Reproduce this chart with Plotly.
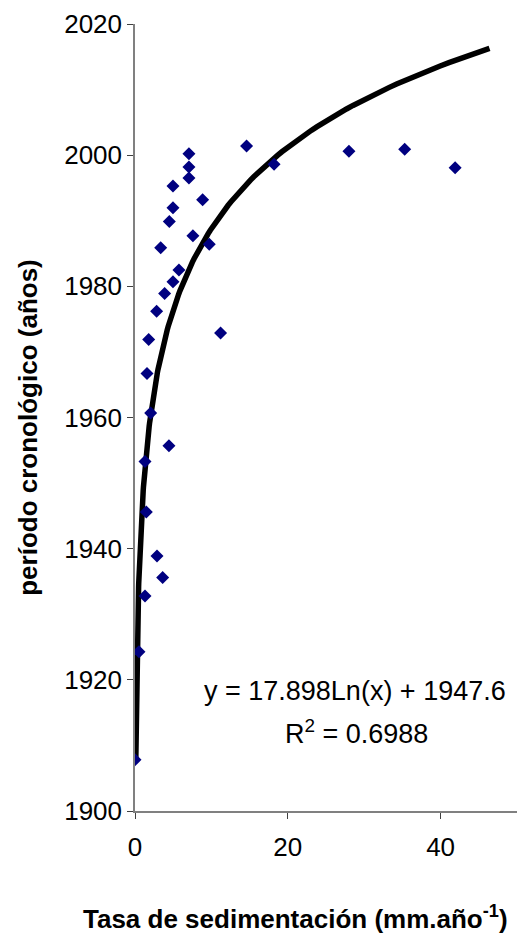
import numpy as np
import plotly.graph_objects as go

# Data points
tasa = [0.0, 0.52, 1.31, 2.88, 3.62, 1.48, 4.44, 1.31, 2.05, 1.57, 1.79, 2.83, 3.88,
        4.97, 5.75, 3.36, 4.49, 4.97, 4.97, 7.06, 7.06, 7.06, 7.58, 8.85, 9.72, 11.2,
        14.6, 18.2, 28.0, 35.3, 41.9]
periodo = [1907.8, 1924.3, 1932.8, 1938.9, 1935.6, 1945.6, 1955.7, 1953.3, 1960.7,
           1966.7, 1971.9, 1976.2, 1978.9, 1980.7, 1982.5, 1985.9, 1989.9, 1992.0,
           1995.3, 1996.5, 1998.2, 2000.2, 1987.7, 1993.2, 1986.4, 1972.9, 2001.4,
           1998.6, 2000.6, 2000.9, 1998.1]

# Logarithmic trendline coefficients (as shown on chart)
coef_a = 17.898
coef_b = 1947.6
trend_x_min = 0.11
trend_x_max = 46.4

x_ticks = [0, 20, 40]
y_ticks = [1900, 1920, 1940, 1960, 1980, 2000, 2020]

tx = np.geomspace(trend_x_min, trend_x_max, 200)
ty = coef_a * np.log(tx) + coef_b

FONT = "Arial, Liberation Sans, sans-serif"

fig = go.Figure()
fig.add_trace(go.Scatter(x=tx, y=ty, mode="lines",
                         line=dict(color="black", width=5.5), hoverinfo="skip",
                         showlegend=False))
fig.add_trace(go.Scatter(x=tasa, y=periodo, mode="markers",
                         marker=dict(symbol="diamond", color="#000080", size=10,
                                     line=dict(width=0)),
                         showlegend=False))

fig.update_layout(
    width=522, height=939,
    margin=dict(l=135, r=5, t=24, b=128),
    paper_bgcolor="white", plot_bgcolor="white",
    font=dict(family=FONT, size=26, color="black"),
    xaxis=dict(range=[0, 50], tickvals=x_ticks, showgrid=False, zeroline=False,
               showline=True, linecolor="#808080", linewidth=1.5,
               ticks="outside", ticklen=6, tickcolor="#404040",
               ticklabelstandoff=6,
               tickfont=dict(size=26, family=FONT)),
    yaxis=dict(range=[1900, 2020], tickvals=y_ticks, showgrid=False, zeroline=False,
               showline=True, linecolor="#808080", linewidth=1.5,
               ticks="outside", ticklen=6, tickcolor="#404040",
               tickfont=dict(size=26, family=FONT)),
    annotations=[
        dict(text="y = 17.898Ln(x) + 1947.6", x=28.8, y=1918.3, xref="x", yref="y",
             showarrow=False, font=dict(size=27, family=FONT)),
        dict(text="R<sup>2</sup> = 0.6988", x=29.0, y=1912.0, xref="x", yref="y",
             showarrow=False, font=dict(size=27, family=FONT)),
        dict(text="<b>período cronológico (años)</b>", x=-0.28, y=0.487,
             xref="paper", yref="paper", textangle=-90, showarrow=False,
             xanchor="center", yanchor="middle", font=dict(size=26, family=FONT)),
        dict(text="<b>Tasa de sedimentación (mm.año<sup>-1</sup>)</b>", x=0.421, y=-0.135,
             xref="paper", yref="paper", showarrow=False,
             xanchor="center", yanchor="middle", font=dict(size=26, family=FONT)),
    ],
)

fig.write_html("out.html")
